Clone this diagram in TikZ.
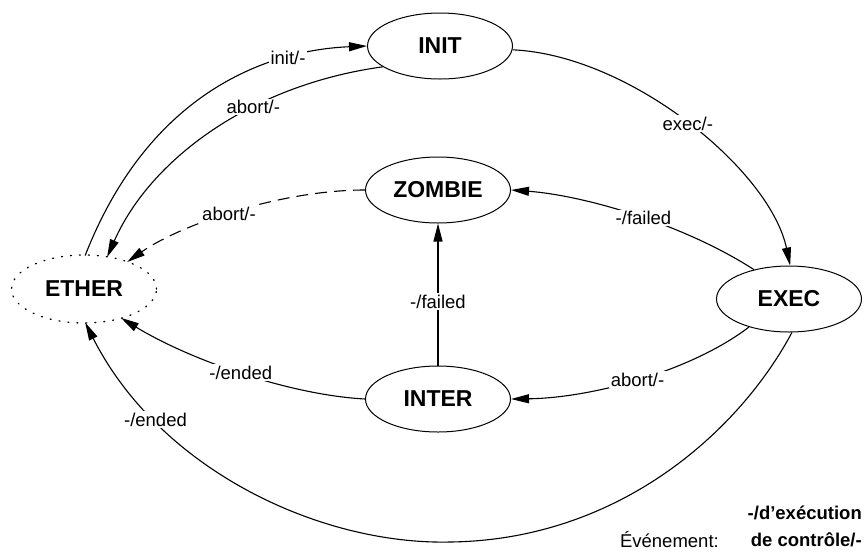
\documentclass[tikz,border=0pt]{standalone}
\usepackage{fontspec}
\setmainfont{Liberation Sans}
\usetikzlibrary{arrows.meta,shapes.geometric}
\begin{document}
\begin{tikzpicture}[x=1pt,y=-1pt,
  state/.style={ellipse,draw,line width=1pt,minimum width=145pt,minimum height=66pt,
    inner sep=0pt,font=\fontsize{23}{27}\selectfont\bfseries},
  trans/.style={line width=1.1pt,-{Triangle[length=18pt,width=9pt]}},
  lbl/.style={fill=white,inner sep=1.5pt,font=\fontsize{18.5}{21}\selectfont},
  legend/.style={inner sep=0pt,font=\fontsize{18.5}{22}\selectfont}]
\useasboundingbox (0,0) rectangle (864,552);

% states
\node[state] (init) at (440,46) {INIT};
\node[state] (zombie) at (438,190) {ZOMBIE};
\node[state] (inter) at (438,399) {INTER};
\node[state] (exec) at (789,299) {EXEC};
\node[state,draw=none] (ether) at (84,289) {ETHER};
\draw[line width=1.3pt,line cap=round,dash pattern=on 1pt off 8pt]
  (ether.center) ellipse [x radius=72.5pt,y radius=34pt];

% transitions
\draw[trans] (ether.88) .. controls (150,90) and (270,50) ..
  node[lbl,pos=0.74] {init/-} (init.west);
\draw[trans] (init.200) .. controls (250,85) and (150,160) ..
  node[lbl,pos=0.36] {abort/-} (ether.54);
\draw[trans,dash pattern=on 12pt off 7pt] (zombie.west) .. controls (280,190) and (180,225) ..
  node[lbl,pos=0.52] {abort/-} (ether.32);
\draw[trans] (init.357) .. controls (630,55) and (770,170) ..
  node[lbl,pos=0.5] {exec/-} (exec.88);
\draw[trans] (exec.140) .. controls (680,222) and (580,195) ..
  node[lbl,pos=0.45] {-/failed} (zombie.east);
\draw[trans] (inter.north) -- node[lbl,pos=0.45] {-/failed} (zombie.south);
\draw[trans] (exec.215) .. controls (690,372) and (590,398) ..
  node[lbl,pos=0.5] {abort/-} (inter.east);
\draw[trans] (inter.west) .. controls (290,395) and (190,360) ..
  node[lbl,pos=0.5] {-/ended} (ether.322);
\coordinate (bottom) at (450,542);
\draw[trans] (exec.275) .. controls (740,430) and (620,540) .. (bottom)
  .. controls (320,545) and (160,470) ..
  node[lbl,pos=0.75] {-/ended} (ether.272);

% legend
\node[legend,anchor=east,font=\fontsize{18.5}{22}\selectfont\bfseries] (ctrlexec) at (862,513) {-/d’exécution};
\node[legend,anchor=east,font=\fontsize{18.5}{22}\selectfont\bfseries] (ctrlevent) at (862,540) {de contrôle/-};
\node[legend,anchor=east] (event) at (719,540) {Événement:};
\end{tikzpicture}
\end{document}
